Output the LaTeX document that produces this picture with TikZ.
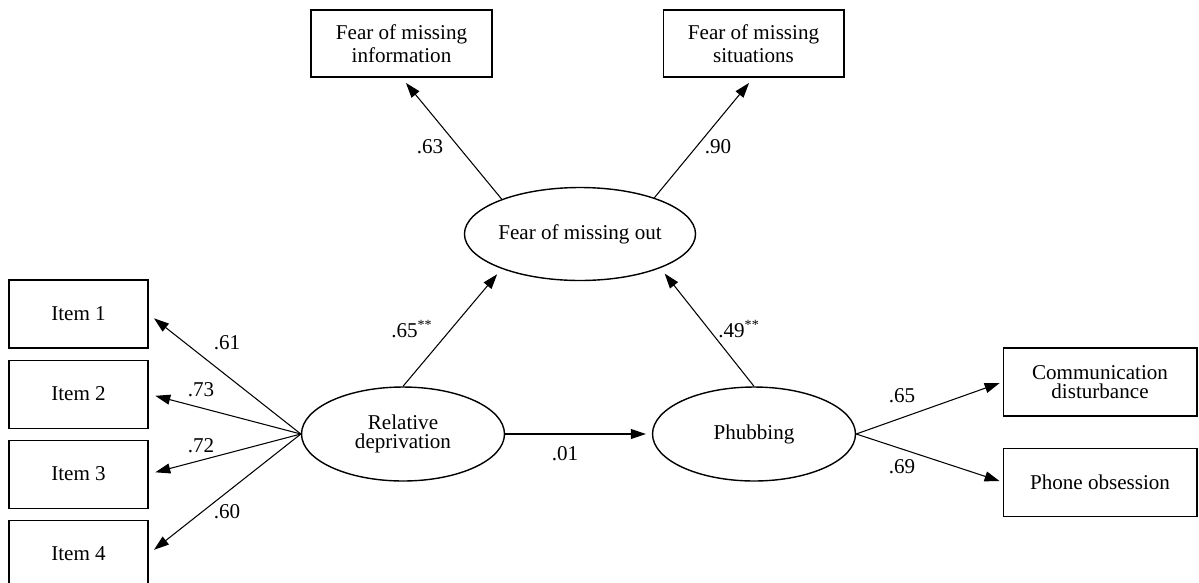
\documentclass[tikz,border=0pt]{standalone}
\usepackage{fontspec}
\setmainfont{Liberation Serif}
\usepackage{tikz}
\usetikzlibrary{positioning,arrows.meta,shapes.geometric}

\begin{document}
\begin{tikzpicture}[x=0.02cm, y=-0.02cm]
\tikzset{%
	obs/.style = {rectangle, draw=black, line width=0.6pt, minimum width=2.78cm, minimum height=1.36cm, align=center, inner sep=0pt, font=\fontsize{12}{12}\selectfont},
	lat/.style = {ellipse, draw=black, line width=0.8pt, minimum width=4.06cm, minimum height=1.88cm, align=center, inner sep=0pt, font=\fontsize{12}{12}\selectfont},
	arr/.style = {line width=0.6pt, -{Triangle[length=3mm,width=2mm]}, shorten >=0.14cm},
	lbl/.style = {inner sep=0pt, font=\fontsize{12}{12}\selectfont}
}
\useasboundingbox (0,0) rectangle (1199,582);

% latent variables
\node(fomo) [lat, minimum width=4.08cm, minimum height=1.86cm] at (580,234) {Fear of missing out};
\node(rd) [lat] at (403,434) {Relative\\[-1pt]deprivation};
\node(ph) [lat] at (754,434) {Phubbing};

% fear of missing out indicators
\node(fmi) [obs, minimum width=3.62cm, minimum height=1.34cm] at (401.5,43.5) {Fear of missing\\[1pt]information};
\node(fms) [obs, minimum width=3.62cm, minimum height=1.34cm] at (753.5,43.5) {Fear of missing\\[1pt]situations};

% relative deprivation items
\node(it1) [obs] at (78.5,314) {Item 1};
\node(it2) [obs, below=0.22cm of it1] {Item 2};
\node(it3) [obs, below=0.22cm of it2] {Item 3};
\node(it4) [obs, below=0.22cm of it3] {Item 4};

% phubbing indicators
\node(com) [obs, minimum width=3.88cm] at (1100,382) {Communication\\[-1pt]disturbance};
\node(pho) [obs, minimum width=3.88cm, below=0.62cm of com] {Phone obsession};

% loadings
\draw [arr] (fomo.156) -- (fmi.south);
\draw [arr] (fomo.26) -- (fms.south);
\draw [arr] (rd.west) -- (it1.east);
\draw [arr] (rd.west) -- (it2.east);
\draw [arr] (rd.west) -- (it3.east);
\draw [arr] (rd.west) -- (it4.east);
\draw [arr, shorten >=0.06cm] (ph.east) -- (com.west);
\draw [arr, shorten >=0.06cm] (ph.east) -- (pho.west);

% structural paths
\draw [arr] (rd.north) -- (fomo.204);
\draw [arr] (ph.north) -- (fomo.-23);
\draw [arr, shorten >=0.12cm] (rd.east) -- (ph.west);

\node(l63) [lbl] at (430,147) {.63};
\node(l90) [lbl] at (718,147) {.90};
\node(l61) [lbl] at (227,343) {.61};
\node(l73) [lbl] at (201,390) {.73};
\node(l72) [lbl] at (201,446) {.72};
\node(l60) [lbl] at (227,512) {.60};
\node(l65) [lbl] at (412,329) {.65\textsuperscript{**}};
\node(l49) [lbl] at (739,329) {.49\textsuperscript{**}};
\node(l01) [lbl] at (565,454) {.01};
\node(lc) [lbl] at (902,396) {.65};
\node(lp) [lbl] at (902,467) {.69};
\end{tikzpicture}
\end{document}
